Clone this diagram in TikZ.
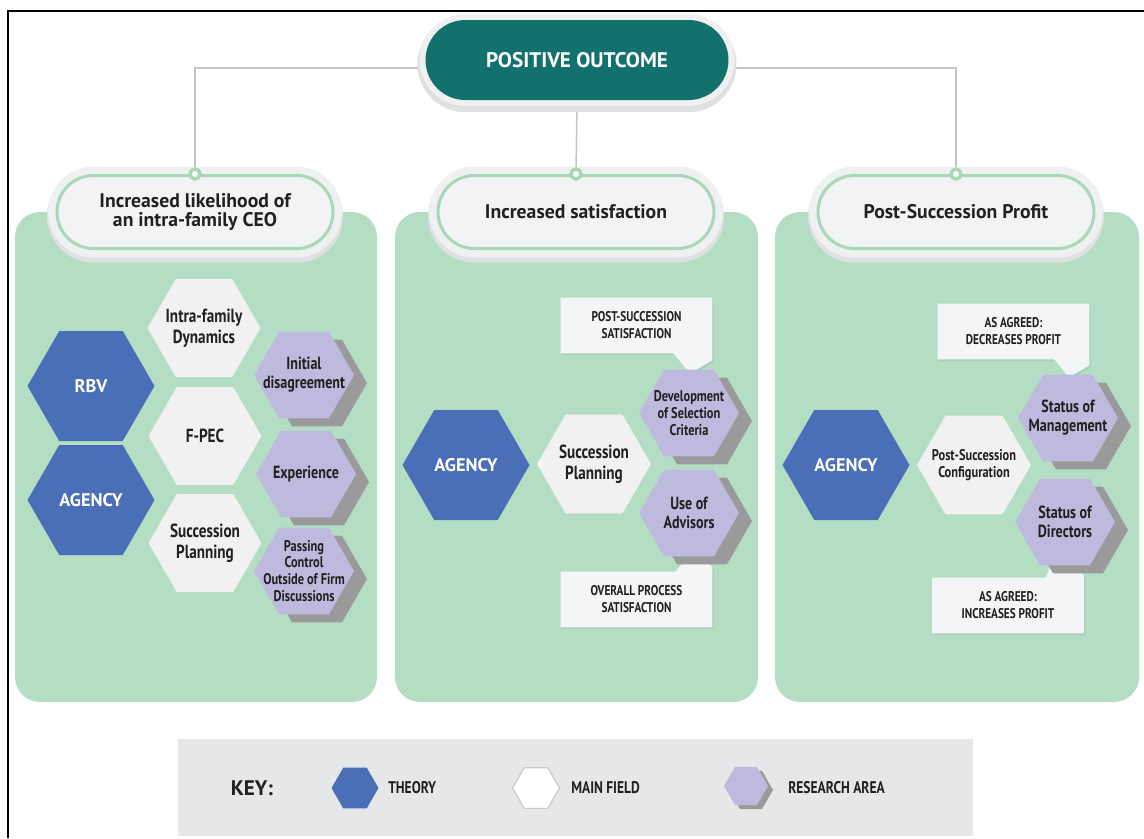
\documentclass[tikz,border=0pt]{standalone}
\usepackage{fontspec}
\usetikzlibrary{shapes.geometric,shapes.misc,shadows,backgrounds,calc}

\newfontfamily\headfont{PT Sans}
\newfontfamily\condfont[FakeStretch=0.8]{PT Sans}
\newcommand\px{0.025cm}

\definecolor{outcometeal}{HTML}{13716D}
\definecolor{panelgreen}{HTML}{B4DEC3}
\definecolor{ringgreen}{HTML}{A8D8B8}
\definecolor{pillfill}{HTML}{F2F3F4}
\definecolor{halogray}{HTML}{EEF0F1}
\definecolor{theoryblue}{HTML}{4A6FB6}
\definecolor{fieldgray}{HTML}{F1F1F1}
\definecolor{researchpurple}{HTML}{BDBADD}
\definecolor{hexshadow}{HTML}{9A9A9C}
\definecolor{calloutfill}{HTML}{F4F5F6}
\definecolor{keygray}{HTML}{E6E7E8}
\definecolor{keyedge}{HTML}{CACACA}
\definecolor{linkgray}{HTML}{C4C4C4}
\definecolor{ink}{HTML}{231F20}

\tikzset{
  frameline/.style={draw=black, line width=1.5*\px},
  panel/.style={fill=panelgreen, rounded corners=25*\px},
  link/.style={draw=linkgray, line width=1.5*\px},
  outcome/.style={rounded rectangle, fill=outcometeal, minimum width=303*\px,
    minimum height=80*\px, inner sep=0pt, text=white,
    font=\headfont\bfseries\fontsize{15}{15}\selectfont,
    preaction={draw=black!12, line width=16*\px, transform canvas={yshift=-3pt}},
    preaction={draw=halogray, line width=12*\px}},
  headpill/.style={rounded rectangle, fill=pillfill, draw=ringgreen,
    line width=3*\px, minimum width=276*\px, minimum height=73*\px,
    inner sep=0pt, align=center, text=ink,
    font=\headfont\bfseries\fontsize{14}{13.5}\selectfont,
    preaction={draw=black!12, line width=20*\px, transform canvas={yshift=-3pt}},
    preaction={draw=halogray, line width=18*\px}},
  joint/.style={circle, fill=white, draw=ringgreen, line width=3.5*\px,
    minimum size=10*\px, inner sep=0pt},
  hexbase/.style={regular polygon, regular polygon sides=6, inner sep=-12pt,
    align=center, text=ink},
  theory/.style={hexbase, fill=theoryblue, minimum size=127*\px, text=white,
    font=\headfont\bfseries\fontsize{13}{14}\selectfont},
  field/.style={hexbase, fill=fieldgray, minimum size=113*\px,
    font=\condfont\bfseries\fontsize{13.5}{15}\selectfont},
  research/.style={hexbase, fill=researchpurple, minimum size=100*\px,
    font=\condfont\bfseries\fontsize{12.5}{13.5}\selectfont,
    drop shadow={shadow xshift=0.325cm, shadow yshift=-0.2cm, fill=hexshadow, opacity=1}},
  small/.style={font=\condfont\bfseries\fontsize{11}{12}\selectfont},
  callbox/.style={minimum width=151*\px, minimum height=55*\px, inner sep=0pt,
    align=center, text=ink, font=\condfont\bfseries\fontsize{10}{12}\selectfont},
  callshape/.style={fill=calloutfill,
    drop shadow={opacity=0.18, shadow xshift=1pt, shadow yshift=-1.2pt}},
  keybox/.style={fill=keygray, minimum width=795*\px, minimum height=97*\px, inner sep=0pt},
  keytitle/.style={text=ink, font=\headfont\bfseries\fontsize{15}{15}\selectfont},
  keytext/.style={anchor=west, inner sep=0pt, text=ink,
    font=\condfont\bfseries\fontsize{12}{13}\selectfont},
}

\begin{document}
\begin{tikzpicture}[x=\px, y=-\px]
\useasboundingbox (0,0) rectangle (1144,838);

\draw[frameline] (8,838) -- (8,11) -- (1144,11);

% top of the tree
\node[outcome] (outcome) at (577,60) {POSITIVE OUTCOME};
\node[headpill] (hdA) at (195,212) {Increased likelihood of\\an intra-family CEO};
\node[headpill] (hdB) at (576,212) {Increased satisfaction};
\node[headpill] (hdC) at (956,212) {Post-Succession Profit};
\foreach \h in {A,B,C}
  \node[joint] (dot\h) at (hd\h.north) {};

% left column
\node[theory] (rbv) at (91,386) {RBV};
\node[theory] (agencyA) at (91,500) {AGENCY};
\node[field] (intradyn) at (204,328) {Intra-family\\Dynamics};
\node[field] (fpec) at (205,436) {F-PEC};
\node[field] (succA) at (205,543) {Succession\\Planning};
\node[research] (initdis) at (304,375) {Initial\\disagreement};
\node[research] (exper) at (306,474) {Experience};
\node[research, small] (passctl) at (304,571) {Passing\\Control\\Outside of Firm\\Discussions};

% middle column
\node[theory] (agencyB) at (466,465) {AGENCY};
\node[field, minimum size=114*\px] (succB) at (594,464) {Succession\\Planning};
\node[research, small] (devsel) at (689,413) {Development\\of Selection\\Criteria};
\node[research] (advis) at (689,513) {Use of\\Advisors};
\node[callbox] (psat) at (636.5,325.5) {POST-SUCCESSION\\SATISFACTION};
\node[callbox] (opsat) at (636.5,599.5) {OVERALL PROCESS\\SATISFACTION};

% right column
\node[theory] (agencyC) at (846,465) {AGENCY};
\node[field, minimum size=114*\px, small] (psconf) at (974,465) {Post-Succession\\Configuration};
\node[research] (mgmt) at (1068,418) {Status of\\Management};
\node[research] (dirs) at (1065,522) {Status of\\Directors};
\node[callbox] (dprof) at (1013.5,331.5) {AS AGREED:\\DECREASES PROFIT};
\node[callbox] (iprof) at (1008,605.5) {AS AGREED:\\INCREASES PROFIT};

% legend
\node[keybox] (keybox) at (575.5,787.5) {};
\node[keytitle] (keylbl) at (252,788) {KEY:};
\node[theory, minimum size=47*\px] (keyT) at (355,788) {};
\node[keytext] (keyTl) at (388,788) {THEORY};
\node[hexbase, fill=white, draw=keyedge, line width=1.2*\px, minimum size=47*\px] (keyF) at (536,788) {};
\node[keytext] (keyFl) at (571,788) {MAIN FIELD};
\node[hexbase, fill=researchpurple, minimum size=44*\px,
  drop shadow={shadow xshift=0.125cm, shadow yshift=-0.1cm, fill=hexshadow, opacity=1}] (keyR) at (746,786) {};
\node[keytext] (keyRl) at (788,788) {RESEARCH AREA};

\begin{scope}[on background layer]
  \fill[panel] (15,212) rectangle (377,702);
  \fill[panel] (395,212) rectangle (758,702);
  \fill[panel] (775,212) rectangle (1139,702);

  \draw[link] ([yshift=-0.2cm]outcome.west) -| (dotA);
  \draw[link] (outcome.south) -- (dotB);
  \draw[link] ([yshift=-0.2cm]outcome.east) -| (dotC);

  % speech boxes with their pointers
  \fill[callshape] (psat.north west) -- (psat.north east)
    -- ([yshift=-7*\px]psat.south east) -- ($(devsel.north)+(1,4)$)
    -- ([xshift=-39*\px]psat.south east) -- (psat.south west) -- cycle;
  \fill[callshape] (opsat.south west) -- (opsat.north west)
    -- ([xshift=-37*\px]opsat.north east) -- ($(advis.south)+(3,-4)$)
    -- ([yshift=5*\px]opsat.north east) -- (opsat.south east) -- cycle;
  \fill[callshape] (dprof.north west) -- (dprof.north east)
    -- ([yshift=-6*\px]dprof.south east) -- ($(mgmt.north)+(1,3)$)
    -- ([xshift=-35*\px]dprof.south east) -- (dprof.south west) -- cycle;
  \fill[callshape] (iprof.south west) -- (iprof.north west)
    -- ([xshift=-38*\px]iprof.north east) -- ($(dirs.south)+(-12,-7)$)
    -- ([yshift=3*\px]iprof.north east) -- (iprof.south east) -- cycle;
\end{scope}
\end{tikzpicture}
\end{document}
